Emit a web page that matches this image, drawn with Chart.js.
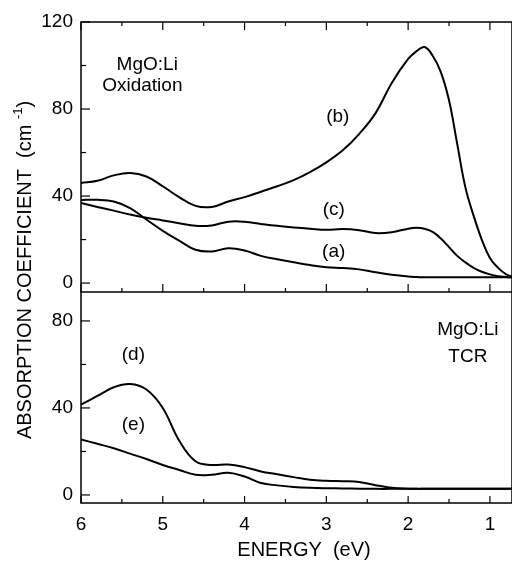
<!DOCTYPE html>
<html>
<head>
<meta charset="utf-8">
<script src="https://cdn.jsdelivr.net/npm/chart.js@4.4.1/dist/chart.umd.min.js"></script>
<style>
    html, body { margin: 0; padding: 0; background: #fff; }
    canvas { display: block; }
</style>
</head>
<body>
<canvas id="grafico" width="512" height="563"></canvas>
<script>
// energia (eV) comun a todas las curvas
const energia = [6.0, 5.8, 5.6, 5.4, 5.2, 5.0, 4.8, 4.6, 4.4, 4.2, 4.0, 3.8, 3.6, 3.4, 3.2, 3.0,
    2.8, 2.6, 2.4, 2.2, 2.0, 1.9, 1.8, 1.7, 1.6, 1.5, 1.4, 1.3, 1.2, 1.1, 1.0, 0.9, 0.8, 0.73];

// panel superior: oxidacion
const curvaA = [38.2, 38.3, 37.5, 34.5, 29.2, 24.0, 19.5, 15.3, 14.5, 16.0, 15.0, 12.5, 11.0, 9.6, 8.3, 7.3,
    6.9, 6.3, 5.0, 3.8, 3.0, 2.8, 2.7, 2.7, 2.7, 2.7, 2.7, 2.7, 2.7, 2.7, 2.7, 2.7, 2.7, 2.7];
const curvaB = [46.0, 47.0, 49.5, 50.6, 49.0, 44.5, 39.5, 35.5, 35.0, 37.5, 39.5, 42.0, 44.5, 47.3, 51.0, 55.5,
    61.0, 68.5, 78.0, 92.0, 103.0, 106.5, 108.5, 104.5, 97.0, 84.0, 64.0, 44.0, 31.0, 20.0, 11.5, 7.0, 4.0, 3.0];
const curvaC = [36.8, 35.0, 33.3, 31.5, 30.0, 28.8, 27.5, 26.3, 26.5, 28.2, 28.2, 27.2, 26.3, 25.6, 25.0, 24.5,
    24.8, 24.3, 23.0, 23.4, 25.0, 25.4, 25.0, 23.5, 20.5, 16.5, 12.5, 9.5, 7.0, 5.2, 4.0, 3.2, 2.8, 2.6];

// panel inferior: TCR
const curvaD = [41.5, 45.5, 49.5, 51.0, 48.5, 40.0, 25.0, 15.5, 13.8, 14.0, 12.8, 10.8, 9.5, 8.2, 7.0, 6.5,
    6.3, 6.0, 4.5, 3.3, 2.9, 2.8, 2.8, 2.8, 2.8, 2.8, 2.8, 2.8, 2.8, 2.8, 2.8, 2.8, 2.8, 2.8];
const curvaE = [25.5, 23.5, 21.5, 19.0, 16.5, 13.8, 11.5, 9.3, 9.3, 10.2, 8.5, 5.5, 4.4, 3.7, 3.3, 3.1,
    3.0, 2.9, 2.8, 2.8, 2.8, 2.8, 2.8, 2.8, 2.8, 2.8, 2.8, 2.8, 2.8, 2.8, 2.8, 2.8, 2.8, 2.8];

// marcas de los ejes
const ticksEnergia = [6, 5, 4, 3, 2, 1];
const menoresEnergia = [5.5, 4.5, 3.5, 2.5, 1.5];
const ticksSup = [0, 40, 80, 120];
const menoresSup = [20, 60, 100];
const ticksInf = [0, 40, 80];
const menoresInf = [20, 60];

// textos dentro de los paneles (en unidades de datos)
const etiquetas = [
    { texto: 'MgO:Li', e: 5.19, v: 100.5, eje: 'ySup' },
    { texto: 'Oxidation', e: 5.25, v: 90.5, eje: 'ySup' },
    { texto: '(b)', e: 2.86, v: 76.3, eje: 'ySup' },
    { texto: '(c)', e: 2.91, v: 33.6, eje: 'ySup' },
    { texto: '(a)', e: 2.91, v: 14.3, eje: 'ySup' },
    { texto: 'MgO:Li', e: 1.27, v: 75.9, eje: 'yInf' },
    { texto: 'TCR', e: 1.27, v: 63.4, eje: 'yInf' },
    { texto: '(d)', e: 5.36, v: 64.4, eje: 'yInf' },
    { texto: '(e)', e: 5.36, v: 32.2, eje: 'yInf' }
];

const FUENTE = '"Liberation Sans", Arial, Helvetica, sans-serif';

const puntos = (ys) => ys.map((y, i) => ({ x: energia[i], y }));

const serie = (ys, eje) => ({
    data: puntos(ys),
    yAxisID: eje,
    borderColor: '#000',
    borderWidth: 2,
    pointRadius: 0,
    fill: false,
    tension: 0.4
});

const marco = {
    id: 'marco',
    afterDraw(chart) {
        const ctx = chart.ctx;
        const x = chart.scales.x;
        const yS = chart.scales.ySup;
        const yI = chart.scales.yInf;
        const a = chart.chartArea;
        ctx.save();
        ctx.strokeStyle = '#000';
        ctx.lineWidth = 1.5;
        ctx.strokeRect(a.left, a.top, a.right - a.left, a.bottom - a.top);
        ctx.beginPath();
        ctx.moveTo(a.left, yS.bottom);
        ctx.lineTo(a.right, yS.bottom);
        ctx.stroke();

        ctx.lineWidth = 1.2;
        const linea = (x1, y1, x2, y2) => {
            ctx.beginPath();
            ctx.moveTo(x1, y1);
            ctx.lineTo(x2, y2);
            ctx.stroke();
        };
        // marcas de energia: arriba y abajo del panel superior, abajo del inferior
        ticksEnergia.forEach(e => {
            const px = x.getPixelForValue(e);
            linea(px, yS.top, px, yS.top + 8);
            linea(px, yS.bottom, px, yS.bottom - 8);
            linea(px, yI.bottom, px, yI.bottom - 7);
        });
        menoresEnergia.forEach(e => {
            const px = x.getPixelForValue(e);
            linea(px, yS.top, px, yS.top + 4);
            linea(px, yS.bottom, px, yS.bottom - 4);
            linea(px, yI.bottom, px, yI.bottom - 4);
        });
        ticksSup.forEach(v => { const py = yS.getPixelForValue(v); linea(a.left, py, a.left + 9, py); });
        menoresSup.forEach(v => { const py = yS.getPixelForValue(v); linea(a.left, py, a.left + 5, py); });
        ticksInf.forEach(v => { const py = yI.getPixelForValue(v); linea(a.left, py, a.left + 9, py); });
        menoresInf.forEach(v => { const py = yI.getPixelForValue(v); linea(a.left, py, a.left + 5, py); });

        // textos
        ctx.fillStyle = '#000';
        ctx.textAlign = 'center';
        ctx.textBaseline = 'middle';
        ctx.font = '19px ' + FUENTE;
        etiquetas.forEach(t => {
            const eje = chart.scales[t.eje];
            ctx.fillText(t.texto, x.getPixelForValue(t.e), eje.getPixelForValue(t.v));
        });

        // titulos de ejes
        ctx.font = '20px ' + FUENTE;
        ctx.fillText('ENERGY  (eV)', 304, 550);

        const principal = 'ABSORPTION COEFFICIENT  (cm ';
        const sup = '-1';
        const fin = ')';
        ctx.font = '20px ' + FUENTE;
        const w1 = ctx.measureText(principal).width;
        const w3 = ctx.measureText(fin).width;
        ctx.font = '13px ' + FUENTE;
        const w2 = ctx.measureText(sup).width;
        const total = w1 + w2 + w3;
        ctx.translate(25, 270);
        ctx.rotate(-Math.PI / 2);
        ctx.textAlign = 'left';
        let cx = -total / 2;
        ctx.font = '20px ' + FUENTE;
        ctx.fillText(principal, cx, 0);
        cx += w1;
        ctx.font = '13px ' + FUENTE;
        ctx.fillText(sup, cx, -7);
        cx += w2;
        ctx.font = '20px ' + FUENTE;
        ctx.fillText(fin, cx, 0);
        ctx.restore();
    }
};

const ejeY = (min, max, ticks, peso) => ({
    type: 'linear',
    position: 'left',
    stack: 'paneles',
    stackWeight: peso,
    min, max,
    grid: { display: false, drawTicks: false },
    border: { display: false },
    ticks: { color: '#000', font: { size: 19, family: FUENTE }, padding: 8 },
    afterBuildTicks: s => { s.ticks = ticks.map(v => ({ value: v })); },
    afterFit: s => { s.width = 81; }
});

const ctx = document.getElementById('grafico').getContext('2d');
const grafico = new Chart(ctx, {
    type: 'line',
    data: {
        datasets: [
            serie(curvaD, 'yInf'),
            serie(curvaE, 'yInf'),
            serie(curvaA, 'ySup'),
            serie(curvaB, 'ySup'),
            serie(curvaC, 'ySup')
        ]
    },
    options: {
        responsive: false,
        animation: false,
        layout: { padding: { top: 22, right: 0, left: 0, bottom: 0 } },
        plugins: { legend: { display: false }, tooltip: { enabled: false } },
        scales: {
            x: {
                type: 'linear',
                reverse: true,
                min: 0.73,
                max: 6,
                grid: { display: false, drawTicks: false },
                border: { display: false },
                ticks: { color: '#000', font: { size: 19, family: FUENTE }, padding: 10, maxRotation: 0 },
                afterBuildTicks: s => { s.ticks = ticksEnergia.map(v => ({ value: v })); },
                afterFit: s => { s.height = 60; }
            },
            yInf: ejeY(-3.7, 93.3, ticksInf, 211),
            ySup: ejeY(-4.1, 120, ticksSup, 270)
        }
    },
    plugins: [marco]
});
</script>
</body>
</html>
